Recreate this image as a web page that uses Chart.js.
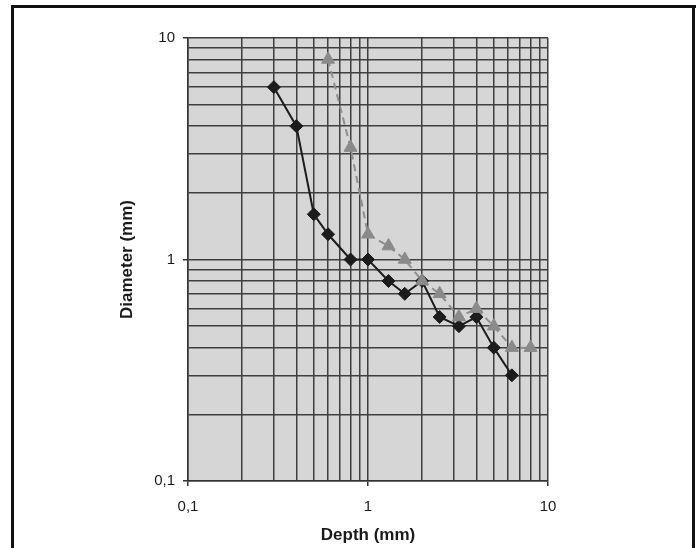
<!DOCTYPE html>
<html>
<head>
<meta charset="utf-8">
<script src="https://cdn.jsdelivr.net/npm/chart.js@4.4.1/dist/chart.umd.min.js"></script>
<style>
  html, body { margin: 0; padding: 0; background: #ffffff; }
  #wrap { width: 696px; height: 548px; position: relative; }
</style>
</head>
<body>
<div id="wrap"><canvas id="c" width="696" height="548"></canvas></div>
<script>
// ---- data ----
const depthBlack    = [0.3, 0.4, 0.5, 0.6, 0.8, 1.0, 1.3, 1.6, 2.0, 2.5, 3.2, 4.0, 5.0, 6.3];
const diameterBlack = [6.0, 4.0, 1.6, 1.3, 1.0, 1.0, 0.8, 0.7, 0.8, 0.55, 0.5, 0.55, 0.4, 0.3];

const depthGrey     = [0.6, 0.8, 1.0, 1.3, 1.6, 2.0, 2.5, 3.2, 4.0, 5.0, 6.3, 8.0];
const diameterGrey  = [8.0, 3.2, 1.3, 1.15, 1.0, 0.8, 0.7, 0.55, 0.6, 0.5, 0.4, 0.4];

// grid / tick positions (log decades with minor steps)
const gridValues = [0.1, 0.2, 0.3, 0.4, 0.5, 0.6, 0.7, 0.8, 0.9,
                    1, 2, 3, 4, 5, 6, 7, 8, 9, 10];
const majorValues = [0.1, 1, 10];
const majorLabels = ['0,1', '1', '10'];

const xTitle = 'Depth (mm)';
const yTitle = 'Diameter (mm)';

// ---- helpers ----
const toPoints = (xs, ys) => xs.map((x, i) => ({ x: x, y: ys[i] }));
const isMajor = v => majorValues.some(m => Math.abs(m - v) < 1e-9);
const labelFor = v => {
  const i = majorValues.findIndex(m => Math.abs(m - v) < 1e-9);
  return i >= 0 ? majorLabels[i] : '';
};
const setTicks = scale => {
  scale.ticks = gridValues.map(v => ({ value: v, major: isMajor(v) }));
};

const frameAndBg = {
  id: 'frameAndBg',
  beforeDraw(chart) {
    const ctx = chart.ctx;
    const a = chart.chartArea;
    ctx.save();
    ctx.fillStyle = '#ffffff';
    ctx.fillRect(0, 0, chart.width, chart.height);
    ctx.fillStyle = '#d6d6d6';
    ctx.fillRect(a.left, a.top, a.right - a.left, a.bottom - a.top);
    ctx.restore();
  },
  afterDraw(chart) {
    const ctx = chart.ctx;
    ctx.save();
    ctx.fillStyle = '#111111';
    ctx.fillRect(11, 5, 685, 3);   // top frame line
    ctx.fillRect(11, 5, 3, 543);   // left frame line
    ctx.fillRect(692, 5, 3, 543);  // right frame line
    ctx.restore();
  }
};

const tickFont = { family: "'Liberation Sans', Arial, sans-serif", size: 15 };
const titleFont = { family: "'Liberation Sans', Arial, sans-serif", size: 17, weight: 'bold' };
const gridOpts = {
  color: '#3e3e3e',
  lineWidth: 1.5,
  drawTicks: true,
  tickLength: 5,
  tickWidth: 1.5,
  tickColor: ctx => (ctx.tick && ctx.tick.major) ? '#333333' : 'rgba(0,0,0,0)'
};

new Chart(document.getElementById('c'), {
  type: 'scatter',
  data: {
    datasets: [
      {
        label: 'grey',
        data: toPoints(depthGrey, diameterGrey),
        showLine: true,
        borderColor: '#8e8e8e',
        borderWidth: 2,
        borderDash: [7, 5],
        pointStyle: 'triangle',
        pointRadius: 7.5,
        pointBackgroundColor: '#8a8a8a',
        pointBorderColor: '#8a8a8a',
        pointBorderWidth: 1
      },
      {
        label: 'black',
        data: toPoints(depthBlack, diameterBlack),
        showLine: true,
        borderColor: '#1c1c1c',
        borderWidth: 2,
        pointStyle: 'rectRot',
        pointRadius: 6.5,
        pointBackgroundColor: '#1c1c1c',
        pointBorderColor: '#1c1c1c',
        pointBorderWidth: 1
      }
    ]
  },
  options: {
    responsive: false,
    animation: false,
    devicePixelRatio: 1,
    layout: { padding: { left: 110, right: 148, top: 38, bottom: 0 } },
    plugins: { legend: { display: false }, tooltip: { enabled: false } },
    scales: {
      x: {
        type: 'logarithmic',
        min: 0.1,
        max: 10,
        afterBuildTicks: setTicks,
        afterFit: s => { s.height = 67; },
        grid: gridOpts,
        border: { display: true, color: '#333333', width: 1.5 },
        ticks: {
          autoSkip: false,
          maxRotation: 0,
          padding: 12,
          color: '#1a1a1a',
          font: tickFont,
          callback: v => labelFor(v)
        },
        title: { display: true, text: xTitle, color: '#1a1a1a', font: titleFont, padding: { top: 2, bottom: 2 } }
      },
      y: {
        type: 'logarithmic',
        min: 0.1,
        max: 10,
        afterBuildTicks: setTicks,
        afterFit: s => { s.width = 78; },
        grid: gridOpts,
        border: { display: true, color: '#333333', width: 1.5 },
        ticks: {
          autoSkip: false,
          padding: 8,
          color: '#1a1a1a',
          font: tickFont,
          callback: v => labelFor(v)
        },
        title: { display: true, text: yTitle, color: '#1a1a1a', font: titleFont, padding: { top: 7, bottom: 2 } }
      }
    }
  },
  plugins: [frameAndBg]
});
</script>
</body>
</html>
